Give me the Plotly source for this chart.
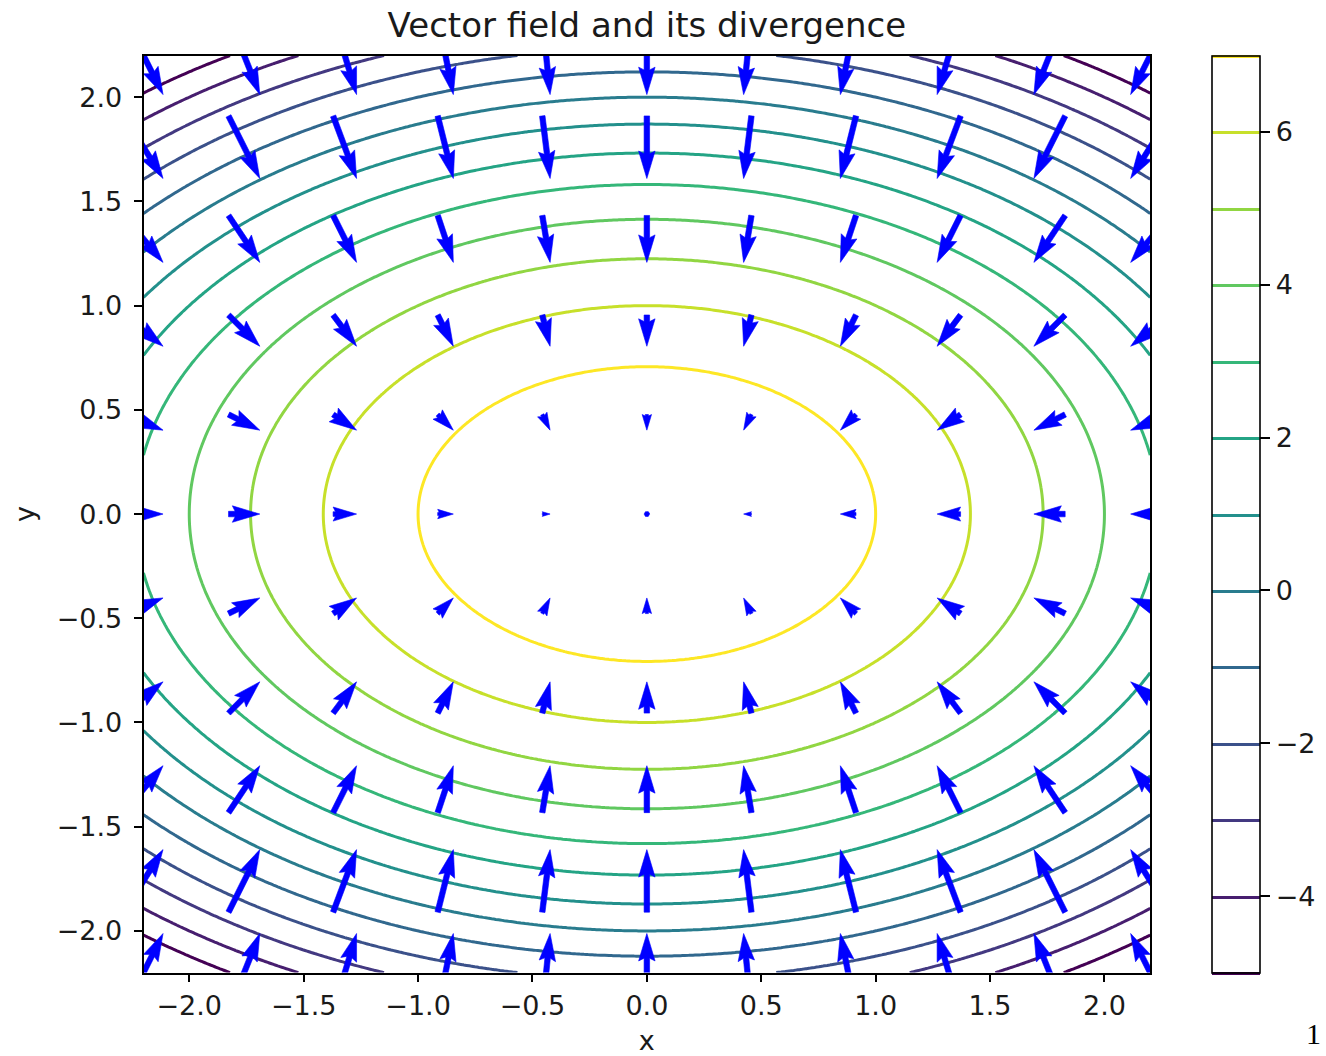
import math
import numpy as np
import plotly.graph_objects as go

# ---------------- data ----------------
# divergence field: value at centre and curvature along x and y
field_center_value = 8.0
field_x_coeff = 1.0
field_y_coeff = 2.0
contour_start = -5
contour_end = 7
contour_step = 1

# quiver grid (11 x 11) and vector components
arrow_x = [-2.2, -1.76, -1.32, -0.88, -0.44, 0.0, 0.44, 0.88, 1.32, 1.76, 2.2]
arrow_y = [-2.2, -1.76, -1.32, -0.88, -0.44, 0.0, 0.44, 0.88, 1.32, 1.76, 2.2]
arrow_u_by_column = [2.2, 1.76, 1.32, 0.88, 0.44, 0.0, -0.44, -0.88, -1.32, -1.76, -2.2]
arrow_v_by_row = [4.4, 3.52, 2.64, 1.76, 0.88, 0.0, -0.88, -1.76, -2.64, -3.52, -4.4]

x_ticks = [-2.0, -1.5, -1.0, -0.5, 0.0, 0.5, 1.0, 1.5, 2.0]
y_ticks = [-2.0, -1.5, -1.0, -0.5, 0.0, 0.5, 1.0, 1.5, 2.0]
cbar_ticks = [-4, -2, 0, 2, 4, 6]
axis_range = [-2.2, 2.2]

title_text = "Vector field and its divergence"
x_label = "x"
y_label = "y"
page_number = "1"

# ---------------- layout geometry (pixels) ----------------
W, H = 1326, 1056
PL, PR, PT, PB = 143.5, 1150.2, 55.5, 972.6
CBL, CBR = 1211.7, 1259.3
TICK_FONT = 27
FONT = "DejaVu Sans"
TXT = "#1a1a1a"


def fmt(v, nd=1):
    s = f"{v:.{nd}f}"
    return s.replace("-", "\u2212")


# contour grid
gx = np.linspace(axis_range[0], axis_range[1], 241)
gy = np.linspace(axis_range[0], axis_range[1], 241)
GX, GY = np.meshgrid(gx, gy)
Z = field_center_value - field_x_coeff * GX ** 2 - field_y_coeff * GY ** 2

viridis = [
    [0.0, "#440154"], [0.1111, "#482878"], [0.2222, "#3e4989"], [0.3333, "#31688e"],
    [0.4444, "#26828e"], [0.5556, "#1f9e89"], [0.6667, "#35b779"], [0.7778, "#6ece58"],
    [0.8889, "#b5de2b"], [1.0, "#fde725"],
]

cb_len = (PB - PT) / H
cb_y = 1 - (PT + PB) / 2 / H

contour = go.Contour(
    x=gx, y=gy, z=Z,
    autocontour=False,
    contours=dict(start=contour_start, end=contour_end, size=contour_step,
                  coloring="lines", showlabels=False),
    colorscale=viridis, zmin=contour_start, zmax=contour_end,
    line=dict(width=3, smoothing=1.0),
    hoverinfo="skip",
    colorbar=dict(
        x=CBL / W, xanchor="left", xpad=0,
        y=cb_y, yanchor="middle", ypad=0,
        len=cb_len, lenmode="fraction",
        thickness=CBR - CBL, thicknessmode="pixels",
        outlinewidth=1.6, outlinecolor="#000000",
        tickmode="array", tickvals=cbar_ticks,
        ticktext=[fmt(t, 0) for t in cbar_ticks],
        ticks="outside", ticklen=10, tickwidth=1.6, tickcolor="#000000",
        tickfont=dict(family=FONT, size=TICK_FONT, color=TXT),
    ),
)

# ---------------- quiver polygons (matplotlib-style, pivot middle) ----------------
span_px = PR - PL
px_per_x = span_px / (axis_range[1] - axis_range[0])
px_per_y = (PB - PT) / (axis_range[1] - axis_range[0])
N = len(arrow_x) * len(arrow_y)
width_px = 0.06 * span_px / min(max(math.sqrt(N), 8), 25)
mags = [math.hypot(u, v) for v in arrow_v_by_row for u in arrow_u_by_column]
amean = sum(mags) / len(mags)
scale = 1.8 * amean * max(10, math.sqrt(N)) / span_px

HL, HAL, HW, MINSH, MINLEN = 5.0, 4.5, 3.0, 5.0, 1.0

poly_x, poly_y = [], []
for j, y0 in enumerate(arrow_y):
    for i, xc in enumerate(arrow_x):
        u = arrow_u_by_column[i]
        v = arrow_v_by_row[j]
        a = math.hypot(u, v)
        L = a / (scale * width_px)  # length in shaft-width units
        if L >= MINSH:
            X = [0, L - HAL, L - HL, L, L - HL, L - HAL, 0, 0]
            Y = [0.5, 0.5, 0.5 * HW, 0, -0.5 * HW, -0.5, -0.5, 0.5]
        else:
            s = L / MINSH
            X = [s * t for t in [0, MINSH - HAL, MINSH - HL, MINSH, MINSH - HL, MINSH - HAL, 0, 0]]
            Y = [s * t for t in [0.5, 0.5, 0.5 * HW, 0, -0.5 * HW, -0.5, -0.5, 0.5]]
        tip = X[3]
        X = [t - 0.5 * tip for t in X]
        if L < MINLEN:
            th = [k * math.pi / 3 for k in range(8)]
            X = [math.cos(t) * MINLEN * 0.5 for t in th]
            Y = [math.sin(t) * MINLEN * 0.5 for t in th]
        ang = math.atan2(v, u)
        ca, sa = math.cos(ang), math.sin(ang)
        for px, py in zip(X, Y):
            rx = (px * ca - py * sa) * width_px
            ry = (px * sa + py * ca) * width_px
            poly_x.append(xc + rx / px_per_x)
            poly_y.append(y0 + ry / px_per_y)
        poly_x.append(None)
        poly_y.append(None)

quiver = go.Scatter(
    x=poly_x, y=poly_y, mode="lines", fill="toself",
    fillcolor="#0000ff", line=dict(color="#0000ff", width=0.6),
    hoverinfo="skip", showlegend=False, connectgaps=False,
)

fig = go.Figure([contour, quiver])

axis_common = dict(
    range=axis_range, showgrid=False, zeroline=False,
    showline=True, linecolor="#000000", linewidth=1.6, mirror=True,
    ticks="outside", ticklen=8, tickwidth=1.6, tickcolor="#000000",
    tickfont=dict(family=FONT, size=TICK_FONT, color=TXT),
    automargin=False, fixedrange=True,
)

fig.update_layout(
    width=W, height=H,
    margin=dict(l=0, r=0, t=0, b=0),
    paper_bgcolor="white", plot_bgcolor="white",
    showlegend=False,
    title=dict(text=title_text, x=(PL + PR) / 2 / W, xanchor="center",
               y=1 - 25 / H, yanchor="middle", yref="container",
               font=dict(family=FONT, size=34, color=TXT)),
    xaxis=dict(domain=[PL / W, PR / W], tickvals=x_ticks,
               ticktext=[fmt(t) for t in x_ticks],
               title=dict(text=x_label, standoff=16,
                          font=dict(family=FONT, size=TICK_FONT, color=TXT)),
               **axis_common),
    yaxis=dict(domain=[1 - PB / H, 1 - PT / H], tickvals=y_ticks,
               ticktext=[fmt(t) for t in y_ticks],
               ticklabelstandoff=6,
               title=dict(text=y_label, standoff=14,
                          font=dict(family=FONT, size=TICK_FONT, color=TXT)),
               **axis_common),
    annotations=[dict(text=page_number, xref="paper", yref="paper",
                      x=1 - 4 / W, xanchor="right", y=1 - 1033 / H, yanchor="middle",
                      showarrow=False, borderpad=0,
                      font=dict(family="Liberation Serif", size=30, color="#000000"))],
)

fig.write_html("out.html")
